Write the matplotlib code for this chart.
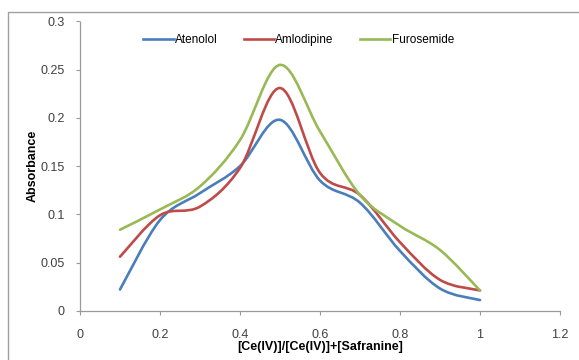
import numpy as np
import matplotlib
matplotlib.use("Agg")
import matplotlib.pyplot as plt
from matplotlib.path import Path
from matplotlib.patches import PathPatch, Rectangle
from matplotlib.lines import Line2D
from matplotlib.ticker import FuncFormatter, MultipleLocator

plt.rcParams["font.family"] = ["Liberation Sans Narrow", "Liberation Sans", "DejaVu Sans"]

# mole fraction [Ce(IV)]/([Ce(IV)]+[Safranine])
mole_frac = [0.1, 0.2, 0.3, 0.4, 0.5, 0.6, 0.7, 0.8, 0.9, 1.0]
atenolol = [0.022, 0.094, 0.122, 0.150, 0.198, 0.135, 0.112, 0.062, 0.023, 0.011]
amlodipine = [0.056, 0.099, 0.108, 0.148, 0.231, 0.143, 0.120, 0.071, 0.032, 0.021]
furosemide = [0.084, 0.105, 0.129, 0.177, 0.255, 0.186, 0.120, 0.088, 0.063, 0.021]

series = [("Atenolol", atenolol, "#4a7ebb"),
          ("Amlodipine", amlodipine, "#be4b48"),
          ("Furosemide", furosemide, "#98b954")]


def smooth_path(x, y):
    # Excel-style smoothed line: cubic Bezier through the data points
    p = np.column_stack([x, y])
    n = len(p)
    verts = [p[0]]
    codes = [Path.MOVETO]
    for i in range(n - 1):
        p0 = p[i - 1] if i > 0 else p[i]
        p3 = p[i + 2] if i + 2 < n else p[i + 1]
        c1 = p[i] + (p[i + 1] - p0) / 6.0
        c2 = p[i + 1] - (p3 - p[i]) / 6.0
        verts += [c1, c2, p[i + 1]]
        codes += [Path.CURVE4] * 3
    return Path(verts, codes)


fig = plt.figure(figsize=(5.79, 3.6), dpi=100)
fig.add_artist(Rectangle((8 / 579, -0.1), 1.2, 1.1 - 12 / 360,
                         transform=fig.transFigure, fill=False,
                         edgecolor="#a0a0a0", lw=1.0))
ax = fig.add_axes([80 / 579, 49.3 / 360, 480 / 579, 289.2 / 360])

handles = []
for name, vals, col in series:
    ax.add_patch(PathPatch(smooth_path(mole_frac, vals), fill=False,
                           edgecolor=col, lw=1.9, capstyle="round",
                           joinstyle="round"))
    handles.append(Line2D([], [], color=col, lw=1.9, label=name))

ax.set_xlim(0, 1.2)
ax.set_ylim(0, 0.3)
ax.xaxis.set_major_locator(MultipleLocator(0.2))
ax.yaxis.set_major_locator(MultipleLocator(0.05))
fmt = FuncFormatter(lambda v, _: f"{v:.2f}".rstrip("0").rstrip("."))
ax.xaxis.set_major_formatter(fmt)
ax.yaxis.set_major_formatter(fmt)

for s in ("top", "right"):
    ax.spines[s].set_visible(False)
for s in ("left", "bottom"):
    ax.spines[s].set_color("#9a9a9a")
    ax.spines[s].set_linewidth(0.9)
ax.tick_params(direction="out", length=3, width=0.8, color="#9a9a9a",
               labelsize=9, labelcolor="#404040")
ax.tick_params(axis="x", pad=10)
ax.tick_params(axis="y", pad=8)

ax.set_xlabel("[Ce(IV)]/[Ce(IV)]+[Safranine]", fontsize=9, fontweight="bold",
              labelpad=0)
ax.set_ylabel("Absorbance", fontsize=9, fontweight="bold", labelpad=1)

ax.legend(handles=handles, loc="center", bbox_to_anchor=(0.455, 0.935),
          ncol=3, frameon=False, fontsize=8.5, handlelength=2.6,
          handletextpad=0.1, columnspacing=2.2)

fig.savefig("out.png", dpi=100)
